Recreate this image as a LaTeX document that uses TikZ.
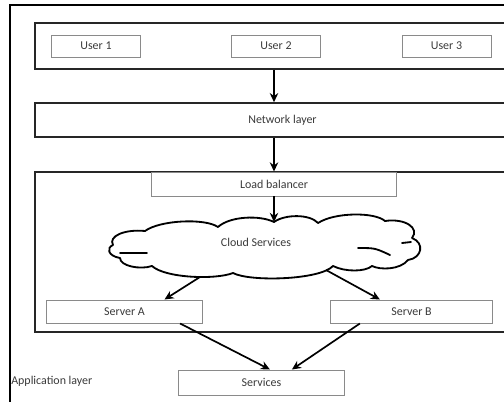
\documentclass[tikz,border=0pt]{standalone}
\usepackage{fontspec}
\setmainfont{Carlito}
\usetikzlibrary{arrows.meta}
\definecolor{boxgrey}{HTML}{8A8A8A}
\definecolor{txtgrey}{HTML}{3A3A3A}

\begin{document}
\begin{tikzpicture}[x=0.025cm, y=-0.025cm,
    every node/.style={font=\fontsize{8.5}{10}\selectfont, text=txtgrey},
    layerbox/.style={rectangle, draw=black!85, line width=1.1pt, minimum width=12.375cm},
    smallbox/.style={rectangle, draw=boxgrey, line width=0.7pt, minimum height=0.55cm},
    cloudline/.style={line width=1.3pt, line join=round, line cap=round},
    flow/.style={-{Stealth[length=6.5pt, width=6pt]}, line width=1.2pt}]
    \useasboundingbox (0,0) rectangle (504,401);
    \clip (0,0) rectangle (504,401);

    % Outer frame (cut at the right)
    \draw[line width=1.1pt] (10,410) -- (10,5) -- (520,5);

    % Users
    \node[layerbox, minimum height=1.15cm] (users) at (282.5,46) {};
    \node[smallbox, minimum width=2.225cm] (user1) at (96,46) {User 1};
    \node[smallbox, minimum width=2.225cm] (user2) at (276,46) {User 2};
    \node[smallbox, minimum width=2.225cm] (user3) at (446.5,46) {User 3};

    % Network layer
    \node[layerbox, minimum height=0.85cm] (network) at (282.5,120) {Network layer};

    % Cluster with load balancer and servers
    \node[layerbox, minimum height=4cm] (cluster) at (282.5,252) {};
    \node[smallbox, minimum width=6.1cm, minimum height=0.6cm] (lb) at (274,184) {Load balancer};

    % Cloud
    \draw[cloudline] (113,245)
        .. controls (108,236) and (125,229) .. (145,231)
        .. controls (160,220) and (205,218) .. (218,227)
        .. controls (230,216) and (260,215) .. (274,222)
        .. controls (285,214) and (310,214) .. (318,223)
        .. controls (335,212) and (375,212) .. (385,221)
        .. controls (405,218) and (420,228) .. (412,238)
        .. controls (425,243) and (422,258) .. (408,260)
        .. controls (400,270) and (380,270) .. (372,266)
        .. controls (365,272) and (345,272) .. (333,266)
        .. controls (320,280) and (250,282) .. (233,273)
        .. controls (215,280) and (165,278) .. (152,266)
        .. controls (140,270) and (120,266) .. (120,258)
        .. controls (108,256) and (106,248) .. (113,245) -- cycle;
    \draw[cloudline] (120,253) -- (147,253);
    \draw[cloudline] (358,248) .. controls (375,248) .. (390,255);
    \draw[cloudline] (402,243) -- (411,242);
    \node (cloud) at (256,242) {Cloud Services};
    \coordinate (cloudtop) at (274,222);
    \coordinate (cloudleft) at (200,277);
    \coordinate (cloudright) at (326,270);

    \node[smallbox, minimum width=3.875cm, minimum height=0.575cm] (serverA) at (124.5,311.5) {Server A};
    \node[smallbox, minimum width=4.025cm, minimum height=0.575cm] (serverB) at (411.5,311.5) {Server B};

    % Application layer
    \node[smallbox, minimum width=4.125cm, minimum height=0.625cm] (services) at (261.5,382.5) {Services};
    \node[anchor=west, inner sep=0pt] (applabel) at (11,381) {Application layer};

    % Arrows
    \draw[flow] (users.south -| lb) -- (network.north -| lb);
    \draw[flow] (network.south -| lb) -- (lb.north);
    \draw[flow] (lb.south) -- (cloudtop);
    \draw[flow] (cloudleft) -- ([xshift=1cm]serverA.north);
    \draw[flow] (cloudright) -- ([xshift=-0.79cm]serverB.north);
    \draw[flow] ([xshift=1.39cm]serverA.south) -- ([xshift=0.21cm]services.north);
    \draw[flow] ([xshift=-1.29cm]serverB.south) -- ([xshift=0.76cm]services.north);
\end{tikzpicture}
\end{document}
